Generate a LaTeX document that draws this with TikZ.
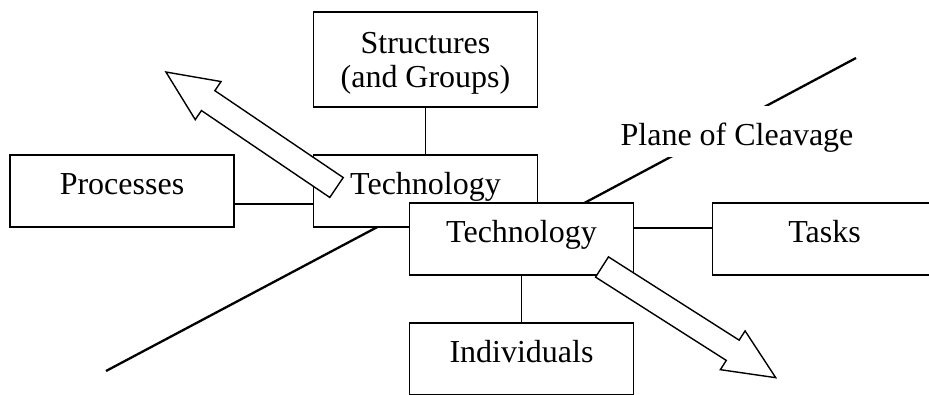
\documentclass[tikz,border=0pt]{standalone}
\usepackage{fontspec}
\setmainfont{Liberation Serif}
\begin{document}
\begin{tikzpicture}[x=1pt, y=-1pt,
  every node/.style={font=\fontsize{32}{34}\selectfont},
  box/.style={draw, fill=white, line width=1.6pt, inner sep=0pt, minimum width=224pt, minimum height=72pt, text height=22pt, text depth=15pt},
  link/.style={line width=1.6pt},
  cleave/.style={line width=2.3pt},
  fat/.style={draw, fill=white, line width=1.4pt}]
  \useasboundingbox (0,0) rectangle (929,394);
  \clip (0,0) rectangle (929,394);

  % plane of cleavage
  \coordinate (c1) at (106,371);
  \coordinate (c2) at (400,215);
  \coordinate (c3) at (560,216);
  \coordinate (c4) at (856,58);
  \draw[cleave] (c1) -- (c2);
  \draw[cleave] (c3) -- (c4);

  \node[box] (proc) at (122,191) {Processes};
  \node[box, minimum height=95pt, align=center, text height=55pt, text depth=0pt] (struct) at (425.5,59.5) {Structures\\(and Groups)};
  \node[box] (techA) at (425.5,191) {Technology};
  \draw[link] (struct) -- (techA);
  \draw[link] ([yshift=-13pt]proc.east) -- ([yshift=-13pt]techA.west);

  \begin{scope}[shift={(336.5,187.5)}, rotate=145.9]
    \draw[fat] (0,-12) -- (155,-12) -- (155,-23) -- (206,0) -- (155,23) -- (155,12) -- (0,12) -- cycle;
  \end{scope}

  \node[box] (techB) at (521.5,239) {Technology};
  \node[box] (tasks) at (824.5,239) {Tasks};
  \node[box] (indiv) at (521.5,359) {Individuals};
  \draw[link] ([yshift=11pt]techB.east) -- ([yshift=11pt]tasks.west);
  \draw[link] (techB) -- (indiv);

  \begin{scope}[shift={(602,267)}, rotate=-32.5]
    \draw[fat] (0,-12) -- (155,-12) -- (155,-23) -- (206,0) -- (155,23) -- (155,12) -- (0,12) -- cycle;
  \end{scope}

  \node[fill=white, inner sep=0pt, anchor=base, text height=39pt, text depth=12pt] (plane) at (737,145) {Plane of Cleavage};
\end{tikzpicture}
\end{document}
